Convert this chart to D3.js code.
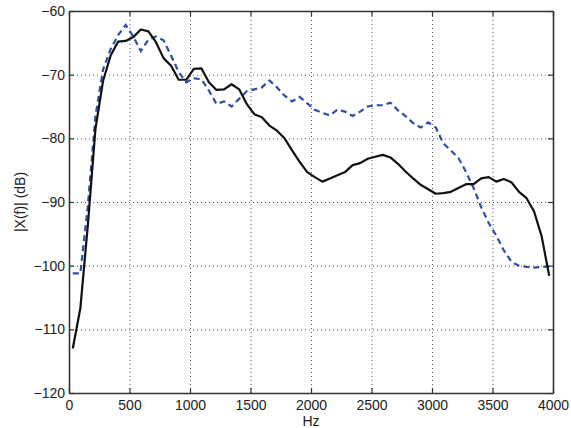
<!DOCTYPE html>
<html>
<head>
<meta charset="utf-8">
<script src="https://cdn.jsdelivr.net/npm/d3@7"></script>
<style>
  body { margin: 0; background: #fff; }
  svg text { font-family: "Liberation Sans", Arial, sans-serif; fill: #222; }
  .grid line { stroke: #555; stroke-width: 1; stroke-dasharray: 1 3; }
  .grid path { display: none; }
</style>
</head>
<body>
<div id="chart"></div>
<script>
// frequency bins (Hz)
const freqs = [31.25, 93.75, 156.25, 218.75, 281.25, 343.75, 406.25, 468.75, 531.25, 593.75,
  656.25, 718.75, 781.25, 843.75, 906.25, 968.75, 1031.25, 1093.75, 1156.25, 1218.75,
  1281.25, 1343.75, 1406.25, 1468.75, 1531.25, 1593.75, 1656.25, 1718.75, 1781.25, 1843.75,
  1906.25, 1968.75, 2031.25, 2093.75, 2156.25, 2218.75, 2281.25, 2343.75, 2406.25, 2468.75,
  2531.25, 2593.75, 2656.25, 2718.75, 2781.25, 2843.75, 2906.25, 2968.75, 3031.25, 3093.75,
  3156.25, 3218.75, 3281.25, 3343.75, 3406.25, 3468.75, 3531.25, 3593.75, 3656.25, 3718.75,
  3781.25, 3843.75, 3906.25, 3968.75];

// solid black curve (dB)
const solidDb = [-113, -106.7, -93.5, -78.5, -71, -67, -64.8, -64.7, -64.1, -62.9,
  -63.2, -64.9, -67.4, -68.6, -70.8, -70.8, -69.1, -69.0, -71.2, -72.4,
  -72.3, -71.5, -72.3, -74.6, -76.2, -76.7, -78.0, -78.8, -80.0, -81.9,
  -83.7, -85.3, -86.1, -86.8, -86.3, -85.8, -85.3, -84.2, -83.9, -83.2,
  -82.9, -82.6, -83.0, -84.0, -85.2, -86.3, -87.3, -88.0, -88.7, -88.6,
  -88.4, -87.8, -87.2, -87.2, -86.3, -86.1, -86.8, -86.4, -86.9, -88.4,
  -89.4, -91.5, -95.4, -101.6];

// dashed blue curve (dB)
const dashedDb = [-101.2, -101.2, -90.5, -76.5, -69.2, -66.0, -63.8, -62.2, -64.0, -66.3,
  -64.5, -64.0, -64.6, -67.0, -69.6, -71.2, -70.6, -70.7, -72.5, -74.6,
  -74.2, -75.0, -73.8, -72.6, -72.3, -72.0, -70.9, -72.0, -73.3, -74.2,
  -73.5, -74.5, -75.5, -76.0, -76.4, -75.5, -75.8, -76.5, -75.8, -75.0,
  -74.8, -74.8, -74.4, -75.6, -76.5, -77.6, -78.3, -77.5, -78.3, -80.8,
  -81.9, -83.1, -85.3, -87.8, -90.8, -93.3, -95.3, -97.6, -99.4, -100.0,
  -100.2, -100.3, -100.2, -100.1];

const xTicks = [0, 500, 1000, 1500, 2000, 2500, 3000, 3500, 4000];
const yTicks = [-120, -110, -100, -90, -80, -70, -60];

const W = 571, H = 428;
const margin = {top: 11, right: 18, bottom: 35, left: 69};
const width = W - margin.left - margin.right,
      height = H - margin.top - margin.bottom;

const svg = d3.select("#chart").append("svg")
  .attr("width", W).attr("height", H);
const g = svg.append("g")
  .attr("transform", "translate(" + margin.left + "," + margin.top + ")");

const x = d3.scaleLinear().domain([0, 4000]).range([0, width]);
const y = d3.scaleLinear().domain([-120, -60]).range([height, 0]);

// dotted grid
g.append("g").attr("class", "grid")
  .attr("transform", "translate(0," + height + ")")
  .call(d3.axisBottom(x).tickValues(xTicks.slice(1, -1)).tickSize(-height).tickFormat(""));
g.append("g").attr("class", "grid")
  .call(d3.axisLeft(y).tickValues(yTicks.slice(1, -1)).tickSize(-width).tickFormat(""));

// curves
const line = d3.line()
  .x((d, i) => x(freqs[i]))
  .y(d => y(d));

g.append("path").datum(dashedDb)
  .attr("fill", "none").attr("stroke", "#2f4fa3")
  .attr("stroke-width", 2.2).attr("stroke-dasharray", "6 4")
  .attr("d", line);

g.append("path").datum(solidDb)
  .attr("fill", "none").attr("stroke", "#111")
  .attr("stroke-width", 2.2).attr("stroke-linejoin", "round")
  .attr("d", line);

// axes with inward ticks, box on all sides
const fmt = d => d < 0 ? "\u2212" + Math.abs(d) : d;
const axBottom = g.append("g").attr("transform", "translate(0," + height + ")")
  .call(d3.axisBottom(x).tickValues(xTicks).tickSizeInner(-5).tickSizeOuter(0).tickPadding(7).tickFormat(d => d));
const axLeft = g.append("g")
  .call(d3.axisLeft(y).tickValues(yTicks).tickSizeInner(-5).tickSizeOuter(0).tickPadding(4).tickFormat(fmt));
const axTop = g.append("g")
  .call(d3.axisTop(x).tickValues(xTicks).tickSizeInner(-5).tickSizeOuter(0).tickFormat(""));
const axRight = g.append("g").attr("transform", "translate(" + width + ",0)")
  .call(d3.axisRight(y).tickValues(yTicks).tickSizeInner(-5).tickSizeOuter(0).tickFormat(""));

[axBottom, axLeft, axTop, axRight].forEach(a => {
  a.select(".domain").attr("stroke", "#333").attr("stroke-width", 1.6);
  a.selectAll(".tick line").attr("stroke", "#333").attr("stroke-width", 1.2);
  a.selectAll("text").style("font-size", "14px").attr("fill", "#222");
});

// labels
g.append("text")
  .attr("x", width / 2).attr("y", height + 33)
  .attr("text-anchor", "middle").style("font-size", "14px")
  .text("Hz");

g.append("text")
  .attr("transform", "rotate(-90)")
  .attr("x", -height / 2).attr("y", -44)
  .attr("text-anchor", "middle").style("font-size", "14px")
  .text("|X(f)| (dB)");
</script>
</body>
</html>
